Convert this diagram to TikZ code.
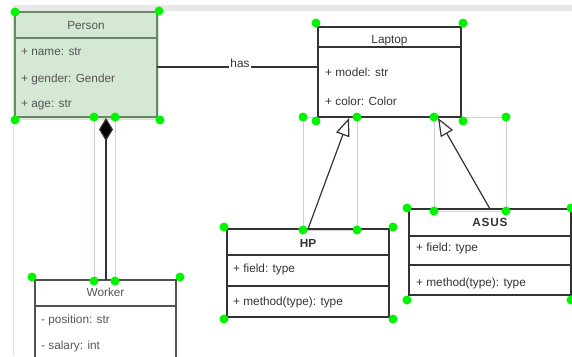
\documentclass[tikz,border=0pt]{standalone}
\usepackage{fontspec}
\setmainfont{Liberation Sans}
\usetikzlibrary{arrows.meta,calc}
\definecolor{pfill}{HTML}{D5E8D4}
\definecolor{pline}{RGB}{105,135,100}
\definecolor{boxline}{HTML}{333333}
\definecolor{txt}{HTML}{333333}
\definecolor{softtxt}{HTML}{555555}
\definecolor{sel}{RGB}{218,204,208}
\definecolor{hand}{RGB}{0,245,0}
\definecolor{band}{RGB}{232,232,232}
\definecolor{edge}{RGB}{225,225,225}
\begin{document}
\begin{tikzpicture}[x=1pt,y=-1pt,
  classbox/.style={draw=boxline, line width=1.2pt, anchor=north west, inner sep=0pt, outer sep=0pt},
  pclass/.style={classbox, draw=pline, fill=pfill},
  attr/.style={font=\fontsize{11.8}{13}\selectfont, text=txt, inner sep=0pt, anchor=west},
  ttl/.style={font=\fontsize{11.8}{13}\selectfont, text=txt, inner sep=0pt},
  divider/.style={draw=boxline, line width=1.2pt},
  conn/.style={draw=boxline, line width=1.2pt},
  selbox/.style={draw=sel, line width=0.8pt},
  handle/.style={fill=hand}
]
\useasboundingbox (0,0) rectangle (572,356);
% canvas edges
\fill[band] (13,5) rectangle (572,11);
\draw[edge, line width=1pt] (13,11) -- (13,356);

% selection guides
\draw[selbox] (303,117) rectangle (357,230);
\draw[selbox] (434,117) rectangle (506,211);
\draw[selbox] (94,117) -- (94,281);
\draw[selbox] (115,117) -- (115,281);

% Person
\fill[pfill] (13,11) rectangle (159,120);
\node[pclass, minimum width=142pt, minimum height=105pt] (person) at (15,12) {};
\draw[draw=pline, line width=1.2pt] (person.west |- 0,38) -- (person.east |- 0,38);
\node[ttl, text=softtxt] (ptitle) at (86,25) {Person};
\node[attr, text=softtxt] (pname) at (21,52) {+ name: str};
\node[attr, text=softtxt] (pgender) at (21,79) {+ gender: Gender};
\node[attr, text=softtxt] (page) at (21,105) {+ age: str};

% Laptop
\node[classbox, minimum width=143pt, minimum height=90pt] (laptop) at (318,27) {};
\draw[divider] (laptop.west |- 0,47) -- (laptop.east |- 0,47);
\node[ttl] (ltitle) at (389.5,41) {Laptop};
\node[attr] (lmodel) at (325,72) {+ model: str};
\node[attr] (lcolor) at (325,101) {+ color: Color};

% HP
\node[classbox, minimum width=162pt, minimum height=88pt] (hp) at (227,229) {};
\draw[divider] (hp.west |- 0,255) -- (hp.east |- 0,255);
\draw[divider] (hp.west |- 0,286) -- (hp.east |- 0,286);
\node[ttl, font=\fontsize{11.8}{13}\selectfont\bfseries] (htitle) at (308,243) {HP};
\node[attr] (hfield) at (233,269) {+ field: type};
\node[attr] (hmethod) at (233,302) {+ method(type): type};

% ASUS
\node[classbox, minimum width=162pt, minimum height=86pt] (asus) at (409,209) {};
\draw[divider] (asus.west |- 0,236) -- (asus.east |- 0,236);
\draw[divider] (asus.west |- 0,265) -- (asus.east |- 0,265);
\node[ttl, font=\fontsize{11.8}{13}\selectfont\bfseries] (atitle) at (490,222) {A\kern0.8pt S\kern0.8pt U\kern0.8pt S};
\node[attr] (afield) at (416,248) {+ field: type};
\node[attr] (amethod) at (416,283) {+ method(type): type};

% Worker
\node[classbox, draw=boxline!85, minimum width=141pt, minimum height=90pt] (worker) at (35,280) {};
\draw[divider, draw=boxline!85] (worker.west |- 0,306) -- (worker.east |- 0,306);
\node[ttl, text=softtxt] (wtitle) at (105.5,292) {Worker};
\node[attr, text=softtxt] (wpos) at (41,320) {- position: str};
\node[attr, text=softtxt] (wsal) at (41,346) {- salary: int};

% association "has"
\coordinate (hasY) at (0,67);
\draw[conn] (person.east |- hasY) -- (laptop.west |- hasY);
\node[font=\fontsize{11.8}{13}\selectfont, text=txt, fill=white, inner xsep=1pt, inner ysep=1pt, anchor=base] (has) at (240,67.6) {has};

% composition
\coordinate (compTop) at (106,118);
\draw[conn, -{Diamond[length=23pt,width=14pt,fill=black]}] (compTop |- worker.north) -- (compTop);

% inheritance
\coordinate (hpTip) at (349,118);
\coordinate (asusTip) at (438,118);
\draw[conn, -{Triangle[open,length=18pt,width=14pt,fill=white]}] (hp.north) -- (hpTip);
\draw[conn, -{Triangle[open,length=18pt,width=14pt,fill=white]}] (asus.north) -- (asusTip);

% selection handles
\foreach \p in {(15,12),(159,11),(15,120),(160,120),(94,117),(115,117),
  (316,23),(463,23),(316,121),(463,121),(303,117),(357,117),(434,117),(506,117),
  (224,227),(393,227),(224,319),(393,319),(303,230),(357,230),
  (407,208),(571,208),(407,300),(571,300),(434,211),(506,211),
  (32,277),(180,277),(94,281),(115,281)}
  \fill[handle] \p circle (4.5pt);
\end{tikzpicture}
\end{document}
